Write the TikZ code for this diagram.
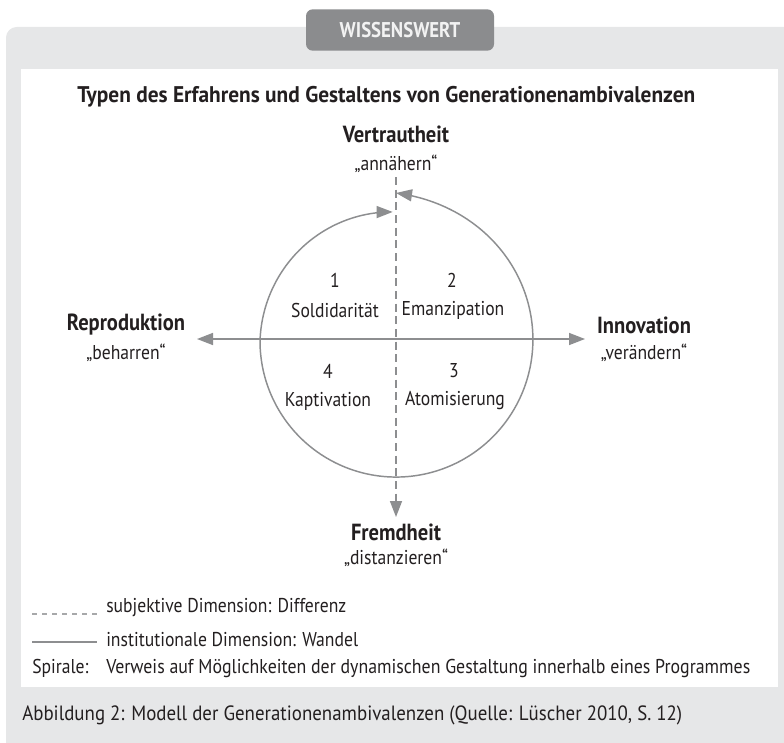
\documentclass[tikz,border=0pt]{standalone}
\usepackage{fontspec}
\setmainfont[FakeStretch=0.88]{PT Sans}
\usetikzlibrary{arrows.meta}
\definecolor{boxgray}{HTML}{E6E7E8}
\definecolor{tabgray}{HTML}{8B8C8E}
\definecolor{linegray}{HTML}{8D8E90}
\definecolor{leggray}{HTML}{A7A8AA}
\definecolor{txt}{HTML}{231F20}
\newcommand{\fitw}[2]{\resizebox{#1}{\height}{#2}}
\tikzset{
  every node/.style={text=txt, inner sep=0pt},
  reg/.style={font=\fontsize{15}{18}\selectfont},
  bld/.style={font=\fontsize{17.5}{20}\selectfont\bfseries},
  axis/.style={draw=linegray, line width=1.1pt},
  declare function={rr(\t)=136+12*exp(-\t/35)-7*max(0,(\t-270)/90);}
}
\begin{document}
\begin{tikzpicture}[x=0.75pt,y=-0.75pt]
\useasboundingbox (0,0) rectangle (784,742);
% outer gray box
\fill[boxgray, rounded corners=8] (6,27) rectangle (800,760);
% tab
\node[fill=tabgray, rounded corners=5, minimum width=141pt, minimum height=31pt,
      text=white!95!black, font=\fontsize{16}{19}\selectfont\bfseries] (tab) at (400,30) {WISSENSWERT};
% white panel
\fill[white] (21,69) rectangle (778,687);
% title
\node[anchor=west, font=\fontsize{17}{20}\selectfont\bfseries] (title) at (77,97)
  {\fitw{463.5pt}{Typen des Erfahrens und Gestaltens von Generationenambivalenzen}};
% pole labels
\node[bld] (vt) at (396,134) {Vertrautheit};
\node[reg] (vtq) at (396,164) {„annähern“};
\node[bld] (fh) at (396,532) {Fremdheit};
\node[reg] (fhq) at (396,558) {„distanzieren“};
\node[bld] (rp) at (126,325) {Reproduktion};
\node[reg] (rpq) at (126,353) {„beharren“};
\node[bld] (in) at (644,325) {Innovation};
\node[reg] (inq) at (644,353) {„verändern“};
% axes
\coordinate (c) at (396,341);
\coordinate (hl) at (197,339);
\coordinate (hr) at (585,339);
\coordinate (vtop) at (396,177);
\coordinate (vbot) at (396,517);
\draw[axis, {Triangle[length=12pt,width=9pt]}-{Triangle[length=12pt,width=9pt]}] (hl) -- (hr);
\draw[axis, dash pattern=on 6pt off 3.5pt, -{Triangle[length=12pt,width=9pt]}] (vtop) -- (vbot);
% spiral
\draw[axis, {Triangle[length=12pt,width=9pt]}-{Triangle[length=12pt,width=9pt]}]
  plot[smooth, variable=\t, domain=0:358.5, samples=120]
  ({396+rr(\t)*sin(\t)}, {341-rr(\t)*cos(\t)});
% quadrants
\node[reg] (n1) at (335,280) {1};
\node[reg] (q1) at (335,310) {Soldidarität};
\node[reg] (n2) at (452,280) {2};
\node[reg] (q2) at (453,310) {Emanzipation};
\node[reg] (n4) at (328,371) {4};
\node[reg] (q4) at (328,401) {Kaptivation};
\node[reg] (n3) at (454,371) {3};
\node[reg] (q3) at (455,401) {Atomisierung};
% legend
\coordinate (l1a) at (32,614); \coordinate (l1b) at (97,614);
\coordinate (l2a) at (32,642); \coordinate (l2b) at (97,642);
\draw[leggray, line width=0.8pt, dash pattern=on 4pt off 3.5pt] (l1a) -- (l1b);
\draw[linegray, line width=0.8pt] (l2a) -- (l2b);
\node[reg, anchor=west] (lg1) at (106,608) {\fitw{180pt}{subjektive Dimension: Differenz}};
\node[reg, anchor=west] (lg2) at (106,640) {\fitw{189pt}{institutionale Dimension: Wandel}};
\node[reg, anchor=west] (lg3a) at (32,668) {Spirale:};
\node[reg, anchor=west] (lg3b) at (106,668) {\fitw{483pt}{Verweis auf Möglichkeiten der dynamischen Gestaltung innerhalb eines Programmes}};
% caption
\node[anchor=west, font=\fontsize{15.5}{18}\selectfont] (cap) at (22,715)
  {\fitw{495pt}{Abbildung 2: Modell der Generationenambivalenzen (Quelle: Lüscher 2010, S. 12)}};
\end{tikzpicture}
\end{document}
